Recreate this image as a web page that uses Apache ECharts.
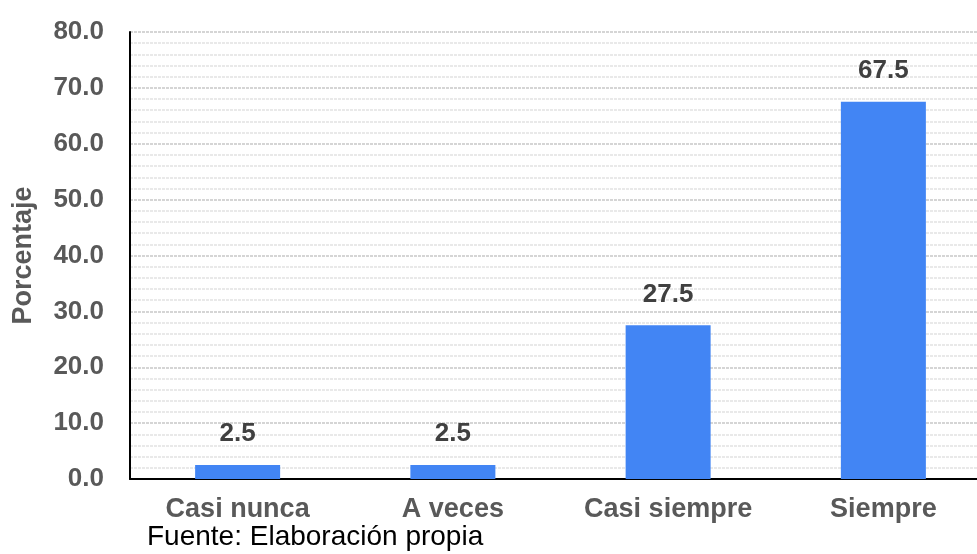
<!DOCTYPE html>
<html>
<head>
<meta charset="utf-8">
<script src="https://cdn.jsdelivr.net/npm/echarts@6/dist/echarts.min.js"></script>
<style>
  html, body { margin: 0; padding: 0; background: #fff; }
  #chart { width: 977px; height: 554px; }
</style>
</head>
<body>
<div id="chart"></div>
<script>
// Response categories and their percentages
const categories = ['Casi nunca', 'A veces', 'Casi siempre', 'Siempre'];
const percentages = [2.5, 2.5, 27.5, 67.5];
const yTicks = { min: 0, max: 80, interval: 10 };

const font = '"Liberation Sans", Arial, sans-serif';
const chart = echarts.init(document.getElementById('chart'));

chart.setOption({
  animation: false,
  grid: { left: 130, width: 861, top: 32, bottom: 75, containLabel: false, outerBoundsMode: 'none' },
  xAxis: {
    type: 'category',
    data: categories,
    axisLine: { lineStyle: { color: '#000', width: 2 } },
    axisTick: { show: false },
    axisLabel: { interval: 0, color: '#595959', fontFamily: font, fontWeight: 'bold', fontSize: 27, margin: 17 }
  },
  yAxis: {
    type: 'value',
    min: yTicks.min,
    max: yTicks.max,
    interval: yTicks.interval,
    name: 'Porcentaje',
    nameLocation: 'middle',
    nameGap: 93,
    nameTextStyle: { color: '#595959', fontFamily: font, fontWeight: 'bold', fontSize: 27 },
    axisLine: { show: true, lineStyle: { color: '#000', width: 2 } },
    axisTick: { show: false },
    axisLabel: {
      color: '#595959', fontFamily: font, fontWeight: 'bold', fontSize: 26, margin: 26,
      formatter: v => v.toFixed(1)
    },
    splitLine: { show: true, lineStyle: { color: '#c8c8c8', type: [3, 1], width: 1.5 } },
    minorTick: { show: false, splitNumber: 5 },
    minorSplitLine: { show: true, lineStyle: { color: '#e2e2e2', type: [3, 1], width: 1.5 } }
  },
  series: [{
    type: 'bar',
    data: percentages,
    barWidth: 85,
    itemStyle: { color: '#4285f4' },
    label: {
      show: true,
      position: 'top',
      distance: 18,
      color: '#404040',
      fontFamily: font,
      fontWeight: 'bold',
      fontSize: 26,
      formatter: p => p.value.toFixed(1)
    }
  }],
  graphic: [{
    type: 'text',
    left: 147,
    top: 523,
    style: { text: 'Fuente: Elaboración propia', fill: '#000', font: '28px "Liberation Sans", Arial, sans-serif' }
  }]
});
</script>
</body>
</html>
